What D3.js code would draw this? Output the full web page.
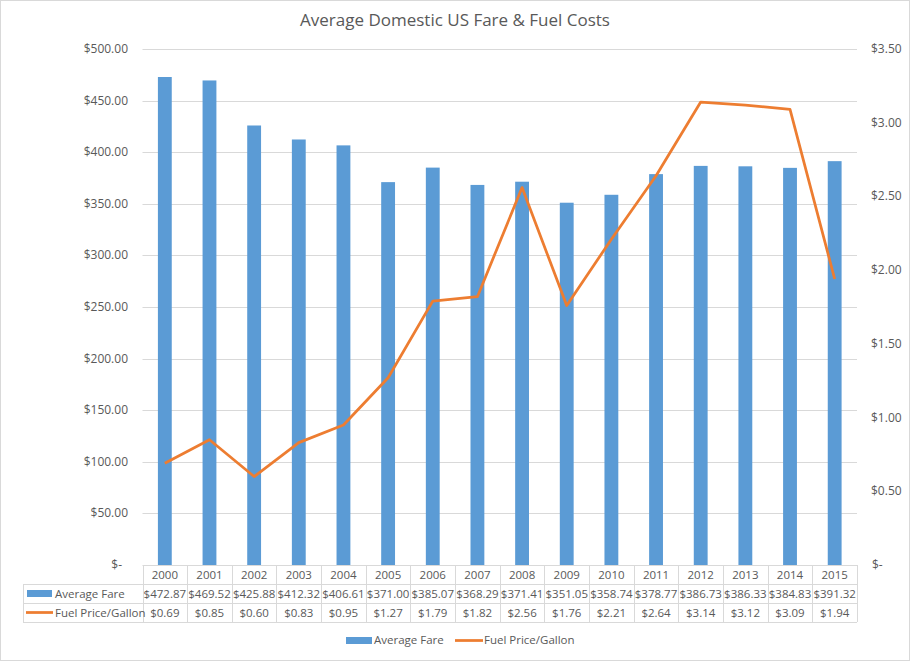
<!DOCTYPE html>
<meta charset="utf-8">
<script src="https://d3js.org/d3.v7.min.js"></script>
<style>
  body { margin: 0; background: #fff; }
  text { font-family: "Open Sans", "Liberation Sans", sans-serif; fill: #595959; }
</style>
<div id="chart"></div>
<script>
const years = ["2000","2001","2002","2003","2004","2005","2006","2007","2008","2009","2010","2011","2012","2013","2014","2015"];
const avgFare = [472.87,469.52,425.88,412.32,406.61,371.00,385.07,368.29,371.41,351.05,358.74,378.77,386.73,386.33,384.83,391.32];
const fuelPrice = [0.69,0.85,0.60,0.83,0.95,1.27,1.79,1.82,2.56,1.76,2.21,2.64,3.14,3.12,3.09,1.94];
const leftTicks = [0,50,100,150,200,250,300,350,400,450,500];
const rightTicks = [0,0.5,1,1.5,2,2.5,3,3.5];

const W = 910, H = 661;
const plot = {left: 142.5, right: 857, top: 49, bottom: 565};
const rowH = 19;

const svg = d3.select("#chart").append("svg")
    .attr("width", W).attr("height", H);

// outer border
svg.append("rect")
    .attr("x", 0.5).attr("y", 0.5)
    .attr("width", W - 1).attr("height", H - 1)
    .attr("fill", "white").attr("stroke", "#d9d9d9");

svg.append("text")
    .attr("x", 455).attr("y", 26)
    .attr("text-anchor", "middle")
    .style("font-size", "17px")
    .text("Average Domestic US Fare & Fuel Costs");

const x = d3.scaleBand().domain(years).range([plot.left, plot.right]).paddingInner(0.69).paddingOuter(0.345);
const xCol = d3.scaleBand().domain(years).range([plot.left, plot.right]);
const y = d3.scaleLinear().domain([0, 500]).range([plot.bottom, plot.top]);
const y2 = d3.scaleLinear().domain([0, 3.5]).range([plot.bottom, plot.top]);

const money = d => d === 0 ? "$-" : "$" + d3.format(",.2f")(d);

// gridlines
svg.append("g").selectAll("line")
    .data(leftTicks.slice(1))
    .join("line")
    .attr("x1", plot.left).attr("x2", plot.right)
    .attr("y1", d => Math.round(y(d)) + 0.5).attr("y2", d => Math.round(y(d)) + 0.5)
    .attr("stroke", "#d9d9d9");

// left axis labels
svg.append("g").selectAll("text")
    .data(leftTicks)
    .join("text")
    .attr("x", d => d === 0 ? 122 : 128)
    .attr("y", d => y(d) + 4)
    .attr("text-anchor", "end")
    .style("font-size", "12px")
    .text(money);

// right axis labels
svg.append("g").selectAll("text")
    .data(rightTicks)
    .join("text")
    .attr("x", d => d === 0 ? 872 : 871)
    .attr("y", d => y2(d) + 4)
    .attr("text-anchor", "start")
    .style("font-size", "12px")
    .text(money);

// bars
svg.append("g").selectAll("rect")
    .data(avgFare)
    .join("rect")
    .attr("x", (d, i) => x(years[i]))
    .attr("y", d => y(d))
    .attr("width", x.bandwidth())
    .attr("height", d => y(0) - y(d))
    .attr("fill", "#5b9bd5");

// fuel line
const line = d3.line()
    .x((d, i) => xCol(years[i]) + xCol.bandwidth() / 2)
    .y(d => y2(d));
svg.append("path")
    .datum(fuelPrice)
    .attr("d", line)
    .attr("fill", "none")
    .attr("stroke", "#ed7d31")
    .attr("stroke-width", 2.75)
    .attr("stroke-linejoin", "round");

// data table
const tbl = svg.append("g");
const t0 = plot.bottom;
const gridC = "#d9d9d9";
// horizontal lines
tbl.append("line").attr("x1", plot.left).attr("x2", plot.right).attr("y1", t0 + 0.5).attr("y2", t0 + 0.5).attr("stroke", gridC);
[1, 2, 3].forEach(r => {
  tbl.append("line")
    .attr("x1", 23).attr("x2", plot.right)
    .attr("y1", t0 + r * rowH + 0.5).attr("y2", t0 + r * rowH + 0.5)
    .attr("stroke", gridC);
});
// vertical lines
tbl.append("line").attr("x1", 23.5).attr("x2", 23.5).attr("y1", t0 + rowH).attr("y2", t0 + 3 * rowH).attr("stroke", gridC);
years.concat(["end"]).forEach((yr, i) => {
  const xx = Math.round(plot.left + i * xCol.bandwidth()) + 0.5;
  tbl.append("line").attr("x1", xx).attr("x2", xx)
    .attr("y1", t0).attr("y2", t0 + 3 * rowH).attr("stroke", gridC);
});
// year headers
tbl.selectAll(".yr").data(years).join("text")
    .attr("x", d => xCol(d) + xCol.bandwidth() / 2)
    .attr("y", t0 + 14)
    .attr("text-anchor", "middle")
    .style("font-size", "11.5px")
    .text(d => d);
tbl.selectAll(".fare").data(avgFare).join("text")
    .attr("x", (d, i) => xCol(years[i]) + xCol.bandwidth() / 2)
    .attr("y", t0 + rowH + 14)
    .attr("text-anchor", "middle")
    .style("font-size", "11.5px")
    .text(d => "$" + d.toFixed(2));
tbl.selectAll(".fuel").data(fuelPrice).join("text")
    .attr("x", (d, i) => xCol(years[i]) + xCol.bandwidth() / 2)
    .attr("y", t0 + 2 * rowH + 14)
    .attr("text-anchor", "middle")
    .style("font-size", "11.5px")
    .text(d => "$" + d.toFixed(2));
// row keys
tbl.append("rect").attr("x", 27).attr("y", t0 + rowH + 6).attr("width", 25).attr("height", 7).attr("fill", "#5b9bd5");
tbl.append("text").attr("x", 55).attr("y", t0 + rowH + 14).style("font-size", "11.5px").text("Average Fare");
tbl.append("line").attr("x1", 26).attr("x2", 53).attr("y1", t0 + 2 * rowH + 9.5).attr("y2", t0 + 2 * rowH + 9.5)
    .attr("stroke", "#ed7d31").attr("stroke-width", 2.75);
tbl.append("text").attr("x", 55).attr("y", t0 + 2 * rowH + 14).style("font-size", "11.5px").text("Fuel Price/Gallon");

// legend
const leg = svg.append("g");
leg.append("rect").attr("x", 346).attr("y", 637).attr("width", 26).attr("height", 7).attr("fill", "#5b9bd5");
leg.append("text").attr("x", 374).attr("y", 644).style("font-size", "11.5px").text("Average Fare");
leg.append("line").attr("x1", 455).attr("x2", 483).attr("y1", 640.5).attr("y2", 640.5)
    .attr("stroke", "#ed7d31").attr("stroke-width", 2.75);
leg.append("text").attr("x", 484).attr("y", 644).style("font-size", "11.5px").text("Fuel Price/Gallon");
</script>
